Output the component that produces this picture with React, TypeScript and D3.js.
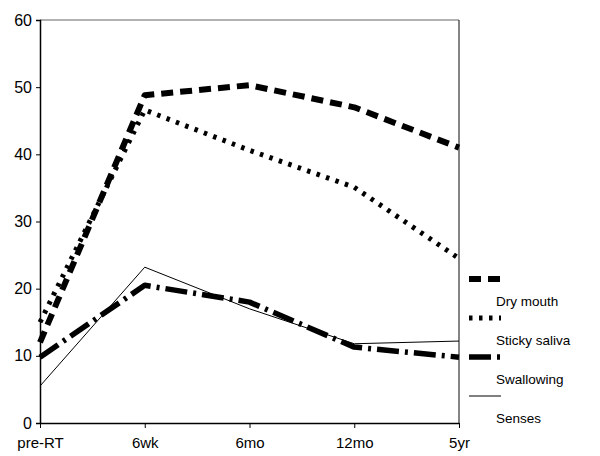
import React, { useRef, useEffect } from "react";
import * as d3 from "d3";

const timepoints = ["pre-RT", "6wk", "6mo", "12mo", "5yr"];
const yTicks = [0, 10, 20, 30, 40, 50, 60];

const dryMouth = [12, 48.8, 50.3, 47, 41];
const stickySaliva = [15, 46.6, 40.6, 35.1, 24.5];
const swallowing = [9.8, 20.5, 18, 11.3, 9.8];
const senses = [5.5, 23.2, 17, 11.8, 12.2];

const seriesNames = ["Dry mouth", "Sticky saliva", "Swallowing", "Senses"];

const App: React.FC = () => {
  const svgRef = useRef<SVGSVGElement | null>(null);

  useEffect(() => {
    if (!svgRef.current) return;
    const width = 600;
    const height = 456;
    const margin = { top: 20, right: 141, bottom: 33, left: 40 };
    const innerWidth = width - margin.left - margin.right;
    const innerHeight = height - margin.top - margin.bottom;

    const svg = d3.select(svgRef.current);
    svg.selectAll("*").remove();

    const g = svg
      .append("g")
      .attr("transform", `translate(${margin.left},${margin.top})`);

    const x = d3.scalePoint<string>().domain(timepoints).range([0, innerWidth]);
    const y = d3.scaleLinear().domain([0, 60]).range([innerHeight, 0]);

    // top and right frame (grey)
    g.append("line")
      .attr("x1", 0).attr("x2", innerWidth).attr("y1", 0).attr("y2", 0)
      .attr("stroke", "#666").attr("stroke-width", 1.2);
    g.append("line")
      .attr("x1", innerWidth).attr("x2", innerWidth).attr("y1", 0).attr("y2", innerHeight)
      .attr("stroke", "#333").attr("stroke-width", 1.2);

    const yAxis = g.append("g")
      .call(d3.axisLeft(y).tickValues(yTicks).tickSize(4).tickFormat(d3.format("d")));
    yAxis.select(".domain").attr("stroke", "#000").attr("stroke-width", 1.5);
    yAxis.selectAll(".tick text")
      .attr("font-family", "Liberation Sans, Arial, sans-serif")
      .attr("font-size", 16)
      .attr("fill", "#000")
      .attr("dx", "-1");

    const xAxis = g.append("g")
      .attr("transform", `translate(0,${innerHeight})`)
      .call(d3.axisBottom(x).tickSize(5).tickSizeOuter(0));
    xAxis.select(".domain").attr("stroke", "#000").attr("stroke-width", 1.5);
    xAxis.selectAll(".tick text")
      .attr("font-family", "Liberation Sans, Arial, sans-serif")
      .attr("font-size", 15)
      .attr("fill", "#000")
      .attr("dy", "1.1em");

    const styles = [
      { data: dryMouth, dash: "12,7", w: 6 },
      { data: stickySaliva, dash: "3.5,6.5", w: 5 },
      { data: swallowing, dash: "22,6,3,6", w: 5.5 },
      { data: senses, dash: null as string | null, w: 1 },
    ];

    const line = d3
      .line<number>()
      .x((_, i) => x(timepoints[i]) as number)
      .y((d) => y(d));

    styles.forEach((s) => {
      const p = g.append("path")
        .datum(s.data)
        .attr("fill", "none")
        .attr("stroke", "#000")
        .attr("stroke-width", s.w)
        .attr("stroke-linejoin", "round")
        .attr("d", line);
      if (s.dash) p.attr("stroke-dasharray", s.dash);
    });

    // legend
    const legend = svg.append("g").attr("transform", "translate(469, 279)");
    styles.forEach((s, i) => {
      const ly = i * 39;
      const l = legend.append("line")
        .attr("x1", 0).attr("x2", 32).attr("y1", ly).attr("y2", ly)
        .attr("stroke", "#000").attr("stroke-width", s.w);
      if (s.dash) l.attr("stroke-dasharray", s.dash);
      legend.append("text")
        .attr("x", 27)
        .attr("y", ly + 27)
        .attr("font-family", "Liberation Sans, Arial, sans-serif")
        .attr("font-size", 13.5)
        .attr("fill", "#000")
        .text(seriesNames[i]);
    });
  }, []);

  return (
    <svg
      ref={svgRef}
      width={600}
      height={456}
      style={{ position: "absolute", left: 0, top: 0, background: "#fff" }}
    />
  );
};

export default App;
